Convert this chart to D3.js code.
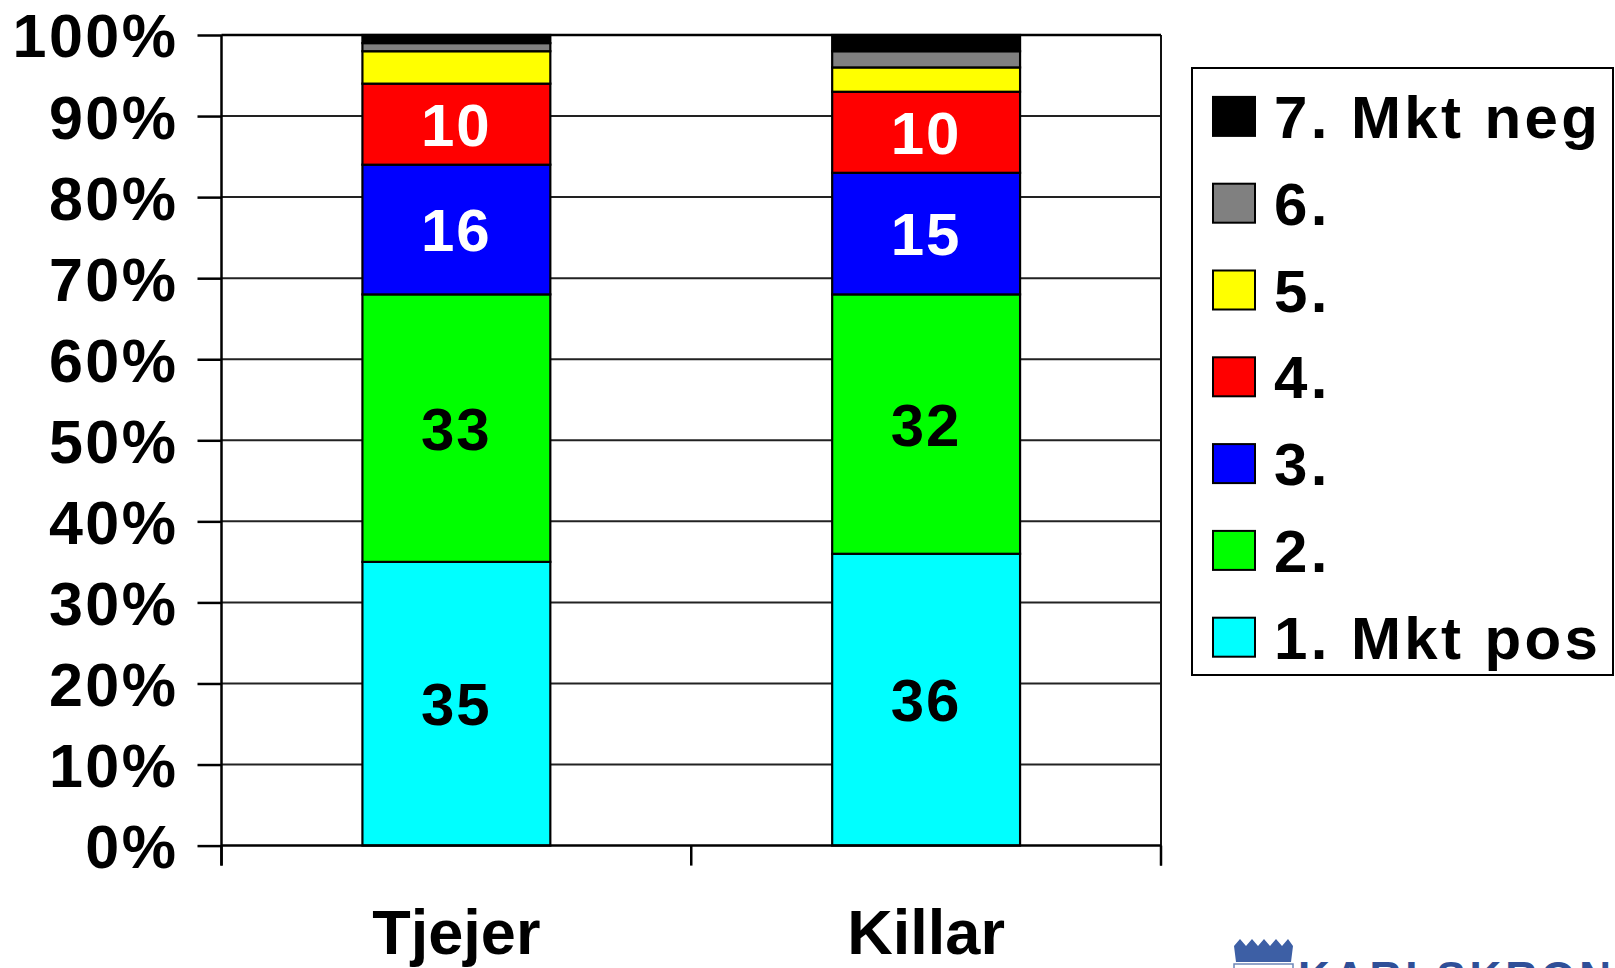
<!DOCTYPE html>
<html>
<head>
<meta charset="utf-8">
<script src="https://cdn.jsdelivr.net/npm/d3@7"></script>
<style>
  html, body { margin: 0; padding: 0; background: #fff; }
  svg { display: block; }
  text { font-family: "Liberation Sans", Arial, sans-serif; font-weight: bold; }
</style>
</head>
<body>
<script>
// ---- data ----
const categories = ["Tjejer", "Killar"];
const seriesNames = ["1. Mkt pos", "2.", "3.", "4.", "5.", "6.", "7. Mkt neg"];
const seriesColors = ["#00FFFF", "#00FF00", "#0000FF", "#FF0000", "#FFFF00", "#808080", "#000000"];
const tjejerValues = [35, 33, 16, 10, 4, 1, 1];
const killarValues = [36, 32, 15, 10, 3, 2, 2];
const labelColors = ["#000", "#000", "#fff", "#fff", "#000", "#000", "#fff"];
const yTickValues = [0, 10, 20, 30, 40, 50, 60, 70, 80, 90, 100];
const labelMin = 10;

const W = 1615, H = 968;
const svg = d3.select("body").append("svg").attr("width", W).attr("height", H);

const plot = { left: 221.5, right: 1161, top: 35, bottom: 845.6 };

const x = d3.scaleBand().domain(categories).range([plot.left, plot.right])
  .paddingInner(0.6).paddingOuter(0.3);
const xOuter = d3.scaleBand().domain(categories).range([plot.left, plot.right]).padding(0);
const y = d3.scaleLinear().domain([0, 100]).range([plot.bottom, plot.top]);

// build stacked rows
const rows = categories.map((c, i) => {
  const vals = i === 0 ? tjejerValues : killarValues;
  const o = { cat: c };
  seriesNames.forEach((s, j) => o[s] = vals[j]);
  return o;
});
const stack = d3.stack().keys(seriesNames)(rows);

// gridlines
svg.append("g").selectAll("line").data(yTickValues.filter(v => v > 0)).join("line")
  .attr("x1", plot.left).attr("x2", plot.right)
  .attr("y1", d => y(d)).attr("y2", d => y(d))
  .attr("stroke", "#222").attr("stroke-width", 2);

// right border
svg.append("line").attr("x1", plot.right).attr("x2", plot.right)
  .attr("y1", plot.top).attr("y2", plot.bottom + 20)
  .attr("stroke", "#111").attr("stroke-width", 2);

// bars
const layer = svg.append("g").selectAll("g").data(stack).join("g")
  .attr("fill", (d, i) => seriesColors[i]);
layer.selectAll("rect").data(d => d).join("rect")
  .attr("x", d => x(d.data.cat))
  .attr("width", x.bandwidth())
  .attr("y", d => y(d[1]))
  .attr("height", d => y(d[0]) - y(d[1]))
  .attr("stroke", "#000").attr("stroke-width", 2.2);

// bar labels
stack.forEach((s, i) => {
  svg.append("g").selectAll("text").data(s.filter(d => d[1] - d[0] >= labelMin)).join("text")
    .attr("x", d => x(d.data.cat) + x.bandwidth() / 2)
    .attr("y", d => (y(d[0]) + y(d[1])) / 2)
    .attr("dy", "0.36em")
    .attr("text-anchor", "middle")
    .attr("font-size", 60)
    .attr("letter-spacing", 2)
    .attr("fill", labelColors[i])
    .text(d => d[1] - d[0]);
});

// y axis
const yAxis = svg.append("g").attr("transform", `translate(${plot.left},0)`)
  .call(d3.axisLeft(y).tickValues(yTickValues).tickFormat(d => d + "%").tickSize(24).tickPadding(19));
yAxis.select(".domain").attr("stroke", "#000").attr("stroke-width", 2.5)
  .attr("d", `M0,${plot.top}V${plot.bottom + 20}`);
yAxis.selectAll(".tick line").attr("stroke", "#000").attr("stroke-width", 2.5);
yAxis.selectAll(".tick text").attr("font-size", 61).attr("fill", "#000")
  .attr("font-family", "'Liberation Sans', Arial, sans-serif").attr("font-weight", "bold")
  .attr("letter-spacing", 2.5)
  .attr("dy", "0.36em");

// x axis baseline and ticks
svg.append("line").attr("x1", plot.left).attr("x2", plot.right)
  .attr("y1", plot.bottom).attr("y2", plot.bottom)
  .attr("stroke", "#000").attr("stroke-width", 2.5);
const xTickPos = [plot.left, ...categories.map(c => xOuter(c) + xOuter.bandwidth())];
svg.append("g").selectAll("line").data(xTickPos).join("line")
  .attr("x1", d => d).attr("x2", d => d)
  .attr("y1", plot.bottom).attr("y2", plot.bottom + 20)
  .attr("stroke", "#000").attr("stroke-width", 2.5);
// top line
svg.append("line").attr("x1", plot.left).attr("x2", plot.right)
  .attr("y1", plot.top).attr("y2", plot.top)
  .attr("stroke", "#000").attr("stroke-width", 2.5);

// category labels
svg.append("g").selectAll("text").data(categories).join("text")
  .attr("x", d => x(d) + x.bandwidth() / 2)
  .attr("y", 954)
  .attr("text-anchor", "middle")
  .attr("font-size", 63)
  .attr("fill", "#000")
  .text(d => d);

// legend
const lg = svg.append("g");
lg.append("rect").attr("x", 1192).attr("y", 68).attr("width", 421).attr("height", 607)
  .attr("fill", "#fff").attr("stroke", "#000").attr("stroke-width", 2);
const legendOrder = seriesNames.map((s, i) => ({ s, c: seriesColors[i] })).reverse();
const li = lg.selectAll("g.item").data(legendOrder).join("g")
  .attr("transform", (d, i) => `translate(0,${116.4 + i * 86.8})`);
li.append("rect").attr("x", 1213).attr("y", -19.5).attr("width", 42).attr("height", 39)
  .attr("fill", d => d.c).attr("stroke", "#000").attr("stroke-width", 2);
li.append("text").attr("x", 1274).attr("y", 0).attr("dy", "0.36em")
  .attr("font-size", 60).attr("letter-spacing", 3.4).attr("fill", "#000")
  .text(d => d.s);

// logo (partially cut off at bottom, as in the reference)
const logo = svg.append("g");
logo.append("path")
  .attr("d", "M1234,946 L1240,939 L1246,946 L1252,939 L1258,946 L1264,939 L1270,946 L1276,939 L1282,946 L1288,939 L1293,946 L1291,962 L1236,962 Z")
  .attr("fill", "#3d5fa5");
logo.append("rect").attr("x", 1234).attr("y", 964).attr("width", 59).attr("height", 8)
  .attr("fill", "none").attr("stroke", "#6d86b8").attr("stroke-width", 1.5);
logo.append("text").attr("x", 1298).attr("y", 993)
  .attr("font-family", "'Liberation Serif', 'DejaVu Serif', serif").attr("font-weight", "normal")
  .attr("font-size", 44).attr("letter-spacing", 4).attr("fill", "#2f4f98")
  .text("KARLSKRONA");
</script>
</body>
</html>
